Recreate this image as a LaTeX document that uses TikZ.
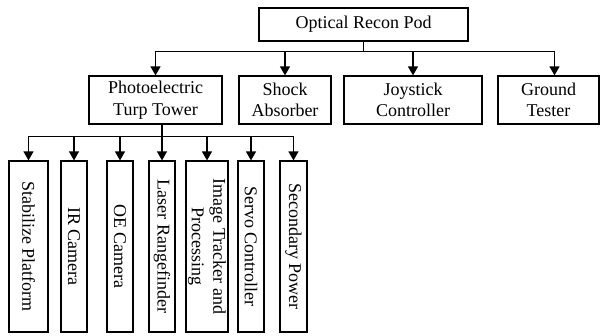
\documentclass[tikz,border=0pt]{standalone}
\usepackage{fontspec}
\setmainfont{Liberation Serif}
\usetikzlibrary{arrows.meta}

\tikzset{
	unitbox/.style = {draw, line width = 1.2pt, inner sep = 0pt, align = center,
		font = \fontsize{18}{21.5}\selectfont},
	topbox/.style = {unitbox, minimum height = 48pt},
	subbox/.style = {unitbox, rotate = -90, minimum width = 171pt},
}

\begin{document}
\begin{tikzpicture}[x = 1pt, y = -1pt, > = {Triangle[length = 9pt, width = 10pt]}, line width = 1.2pt]

	\useasboundingbox (0, 0) rectangle (601, 335);

	% root
	\node [unitbox, minimum width = 209pt, minimum height = 33pt] (pod) at (363.5, 24.5) {Optical Recon Pod};

	% second level
	\node [topbox, minimum width = 133pt] (pet) at (155.5, 100) {Photoelectric\\Turp Tower};
	\node [topbox, minimum width = 92pt] (sha) at (285, 100) {Shock\\Absorber};
	\node [topbox, minimum width = 138pt] (joy) at (413, 100) {Joystick\\Controller};
	\node [topbox, minimum width = 101pt] (gnd) at (548.5, 100) {Ground\\Tester};

	% third level (rotated, so west is the top side)
	\node [subbox, minimum height = 39pt] (stab) at (28.5, 246.5) {Stabilize Platform};
	\node [subbox, minimum height = 26pt] (irc) at (74, 246.5) {IR Camera};
	\node [subbox, minimum height = 26pt] (oec) at (120, 246.5) {OE Camera};
	\node [subbox, minimum height = 26pt] (lrf) at (162, 246.5) {Laser Rangefinder};
	\node [subbox, minimum height = 42pt] (itp) at (207, 246.5) {Image Tracker and\\Processing};
	\node [subbox, minimum height = 26pt] (svc) at (251, 246.5) {Servo Controller};
	\node [subbox, minimum height = 27pt] (spw) at (293.5, 246.5) {Secondary Power};

	\begin{scope}[->]

		\foreach \child/\dx in {pet/0, sha/0, joy/0, gnd/6}
			\draw (pod.south) -- ++(0, 9.5) -| ([xshift = \dx pt] \child.north);

		\foreach \child in {stab, irc, oec, lrf, itp, svc, spw}
			\draw ([xshift = 6.5pt] pet.south) -- ++(0, 12) -| (\child.west);

	\end{scope}

\end{tikzpicture}
\end{document}
